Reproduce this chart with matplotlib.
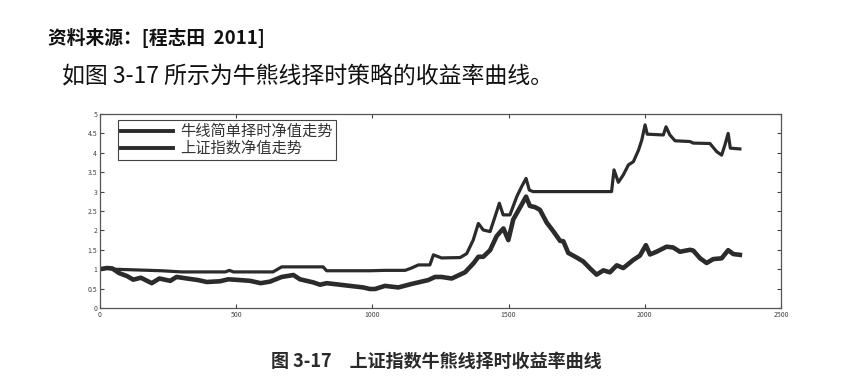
import matplotlib
matplotlib.use("Agg")
import matplotlib.pyplot as plt

plt.rcParams["font.family"] = ["Noto Sans CJK SC", "DejaVu Sans"]

# ---- data (trading day index -> net value) ----
index_x = [0, 25, 45, 70, 100, 122, 150, 190, 218, 258, 281, 320, 360, 392,
           441, 471, 514, 551, 590, 624, 667, 710, 734, 783, 808, 832, 893,
           942, 966, 991, 1010, 1046, 1095, 1144, 1205, 1230, 1254, 1291,
           1340, 1371, 1389, 1407, 1432, 1456, 1468, 1481, 1499, 1517, 1542,
           1564, 1578, 1597, 1615, 1640, 1664, 1689, 1701, 1719, 1750, 1774,
           1799, 1823, 1848, 1872, 1897, 1921, 1958, 1982, 2004, 2019, 2043,
           2080, 2104, 2129, 2166, 2178, 2203, 2227, 2251, 2282, 2306, 2325,
           2349]
index_nav = [1.00, 1.03, 1.02, 0.90, 0.82, 0.73, 0.78, 0.64, 0.76, 0.70,
             0.80, 0.76, 0.72, 0.67, 0.69, 0.74, 0.72, 0.70, 0.64, 0.68,
             0.80, 0.85, 0.74, 0.66, 0.60, 0.64, 0.59, 0.55, 0.53, 0.49,
             0.49, 0.57, 0.53, 0.62, 0.72, 0.80, 0.80, 0.76, 0.92, 1.15,
             1.32, 1.32, 1.49, 1.85, 1.95, 2.05, 1.75, 2.28, 2.59, 2.87,
             2.63, 2.60, 2.53, 2.20, 1.98, 1.73, 1.72, 1.42, 1.30, 1.20,
             1.02, 0.86, 0.97, 0.92, 1.10, 1.03, 1.24, 1.35, 1.62, 1.38,
             1.45, 1.58, 1.56, 1.45, 1.50, 1.48, 1.28, 1.16, 1.26, 1.28,
             1.49, 1.39, 1.37]

timing_x = [0, 25, 50, 226, 300, 460, 475, 490, 635, 667, 819, 832, 991,
            1046, 1120, 1140, 1169, 1211, 1224, 1254, 1322, 1346, 1370, 1389,
            1407, 1432, 1450, 1466, 1480, 1505, 1530, 1548, 1564, 1576, 1590,
            1878, 1887, 1903, 1921, 1940, 1958, 1977, 1989, 2001, 2009, 2068,
            2078, 2092, 2111, 2166, 2178, 2239, 2264, 2282, 2294, 2306, 2314,
            2349]
timing_nav = [1.00, 1.03, 1.00, 0.96, 0.93, 0.93, 0.97, 0.93, 0.93, 1.06,
              1.06, 0.96, 0.96, 0.97, 0.97, 1.02, 1.11, 1.11, 1.37, 1.29,
              1.30, 1.40, 1.75, 2.18, 2.01, 1.97, 2.35, 2.70, 2.40, 2.40,
              2.87, 3.13, 3.34, 3.04, 3.00, 3.00, 3.56, 3.24, 3.43, 3.69,
              3.77, 4.07, 4.33, 4.72, 4.48, 4.46, 4.67, 4.46, 4.31, 4.29,
              4.25, 4.24, 4.03, 3.94, 4.20, 4.50, 4.12, 4.10]

labels = ["牛线简单择时净值走势", "上证指数净值走势"]
x_ticks = [0, 500, 1000, 1500, 2000, 2500]
y_ticks = [0, 0.5, 1, 1.5, 2, 2.5, 3, 3.5, 4, 4.5, 5]
y_ticklabels = ["0", "0.5", "1", "1.5", "2", "2.5", "3", "3.5", "4", "4.5", "5"]

INK = "#2b2b2b"

fig = plt.figure(figsize=(8.43, 3.90), dpi=100, facecolor="white")

# page text around the figure (scanned book page)
fig.text(48 / 843, 1 - 38 / 390, "资料来源：[程志田  2011]", fontsize=13.5,
         fontweight="bold", color="#111111", va="center", ha="left")
fig.text(62 / 843, 1 - 77 / 390, "如图 3-17 所示为牛熊线择时策略的收益率曲线。",
         fontsize=16.5, color="#111111", va="center", ha="left")
fig.text(436 / 843, 1 - 361 / 390, "图 3-17　上证指数牛熊线择时收益率曲线",
         fontsize=13, fontweight="bold", color="#2a2a2a", va="center",
         ha="center")

ax = fig.add_axes([100 / 843, 1 - 308 / 390, 681 / 843, 194 / 390])
ax.plot(timing_x, timing_nav, color=INK, lw=2.3, label=labels[0],
        solid_joinstyle="round")
ax.plot(index_x, index_nav, color=INK, lw=3.3, label=labels[1],
        solid_joinstyle="round")

ax.set_xlim(0, 2500)
ax.set_ylim(0, 5)
ax.set_xticks(x_ticks)
ax.set_yticks(y_ticks)
ax.set_yticklabels(y_ticklabels)
ax.tick_params(direction="in", length=3, width=0.8, labelsize=5,
               colors="#444444", top=True, right=True, pad=2)
for sp in ax.spines.values():
    sp.set_color("#555555")
    sp.set_linewidth(0.9)

leg = ax.legend(loc="upper left", bbox_to_anchor=(0.026, 0.97),
                borderaxespad=0, fontsize=11, handlelength=3.4,
                handletextpad=0.5, labelspacing=0.0, borderpad=0.2,
                fancybox=False, framealpha=1)
leg.get_frame().set_edgecolor("#444444")
leg.get_frame().set_linewidth(0.8)
for line in leg.get_lines():
    line.set_linewidth(2.8)
for t in leg.get_texts():
    t.set_color("#333333")

fig.savefig("out.png", dpi=100, facecolor="white")
